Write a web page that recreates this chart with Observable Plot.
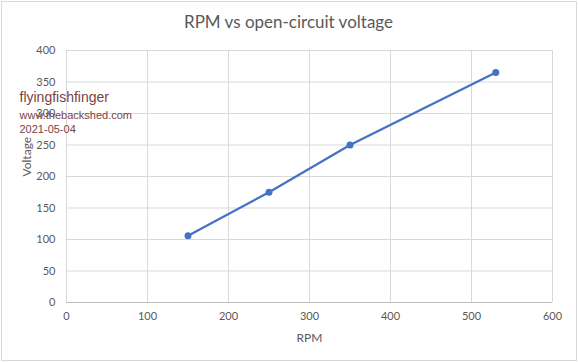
<!DOCTYPE html>
<html>
<head>
<meta charset="utf-8">
<script src="https://cdn.jsdelivr.net/npm/d3@7"></script>
<script src="https://cdn.jsdelivr.net/npm/@observablehq/plot@0.6"></script>
<style>
  html, body { margin: 0; padding: 0; background: #fff; }
  #wrap { position: relative; width: 578px; height: 362px; overflow: hidden; }
  #border { position: absolute; left: 1px; top: 1px; width: 574px; height: 358px; border: 1px solid #d9d9d9; pointer-events: none; }
</style>
</head>
<body>
<div id="wrap"><div id="border"></div></div>
<script>
const title = "RPM vs open-circuit voltage";
const xLabel = "RPM";
const yLabel = "Voltage";
const notes = ["flyingfishfinger", "www.thebackshed.com", "2021-05-04"];

const rpm = [150, 250, 350, 530];
const voltage = [106, 175, 250, 365];

const xTicks = [0, 100, 200, 300, 400, 500, 600];
const yTicks = [0, 50, 100, 150, 200, 250, 300, 350, 400];

const data = rpm.map((r, i) => ({rpm: r, voltage: voltage[i]}));

const grey = "#595959";
const noteColor = "#7b3f3f";

const chart = Plot.plot({
  width: 578,
  height: 362,
  marginLeft: 66,
  marginRight: 26,
  marginTop: 50,
  marginBottom: 60,
  style: {fontFamily: "Lato, sans-serif", fontSize: "11px", color: grey, background: "transparent"},
  x: {domain: [0, 600], label: null},
  y: {domain: [0, 400], label: null},
  marks: [
    Plot.gridX(xTicks, {stroke: "#d9d9d9", strokeOpacity: 1}),
    Plot.gridY(yTicks, {stroke: "#d9d9d9", strokeOpacity: 1}),
    Plot.ruleY([0], {stroke: "#bfbfbf"}),
    Plot.axisX(xTicks, {tickSize: 0, tickPadding: 10, label: null, fill: grey}),
    Plot.axisY(yTicks, {tickSize: 0, tickPadding: 11, label: null, fill: grey}),
    Plot.line(data, {x: "rpm", y: "voltage", stroke: "#4472C4", strokeWidth: 2.25}),
    Plot.dot(data, {x: "rpm", y: "voltage", r: 3.5, fill: "#4472C4", stroke: "none"}),
    Plot.text([title], {frameAnchor: "top", dx: -21, dy: -28, fontSize: 17, fill: grey, lineAnchor: "middle"}),
    Plot.text([xLabel], {frameAnchor: "bottom", dy: 36, fontSize: 12, fill: grey, lineAnchor: "middle"}),
    Plot.text([yLabel], {frameAnchor: "left", dx: -39, rotate: -90, fontSize: 12, fill: grey, lineAnchor: "middle"}),
    Plot.text([notes[0]], {frameAnchor: "top-left", dx: -47, dy: 47, fontSize: 14, fontFamily: "Liberation Sans, Arial, sans-serif", fill: noteColor, textAnchor: "start", lineAnchor: "middle"}),
    Plot.text([notes[1]], {frameAnchor: "top-left", dx: -47, dy: 65, fontSize: 11, fontFamily: "Liberation Sans, Arial, sans-serif", fill: noteColor, textAnchor: "start", lineAnchor: "middle"}),
    Plot.text([notes[2]], {frameAnchor: "top-left", dx: -47, dy: 79, fontSize: 11, fontFamily: "Liberation Sans, Arial, sans-serif", fill: noteColor, textAnchor: "start", lineAnchor: "middle"})
  ]
});
document.getElementById("wrap").insertBefore(chart, document.getElementById("border"));
</script>
</body>
</html>
